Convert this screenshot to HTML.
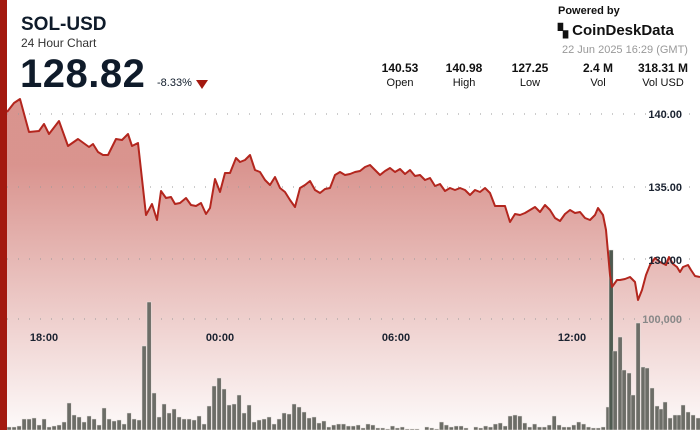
<!DOCTYPE html>
<html><head><meta charset="utf-8"><style>
body{margin:0;width:700px;height:430px;overflow:hidden;background:#fff;font-family:"Liberation Sans",sans-serif;position:relative}
.a{position:absolute;white-space:nowrap}
</style></head><body>
<svg class="a" style="left:0;top:0" width="700" height="430" id="s">
<defs><linearGradient id="g" x1="0" y1="0" x2="0" y2="1"><stop offset="0.2" stop-color="#c55a52" stop-opacity="0.65"/><stop offset="1" stop-color="#c55a52" stop-opacity="0.03"/></linearGradient></defs>
</svg>
<div class="a" style="left:0;top:0;width:7px;height:430px;background:#a3190f"></div>
<div class="a" style="left:21px;top:14px;font-size:19px;font-weight:bold;color:#0f1b2a">SOL-USD</div>
<div class="a" style="left:21px;top:36px;font-size:12px;color:#333">24 Hour Chart</div>
<div class="a" style="left:20px;top:52px;font-size:40px;font-weight:bold;color:#0f1b2a;letter-spacing:0.5px">128.82</div>
<div class="a" style="left:157px;top:77px;font-size:11px;color:#0f1b2a">-8.33%</div>
<div class="a" style="left:196px;top:80px;width:0;height:0;border-left:6px solid transparent;border-right:6px solid transparent;border-top:9px solid #a3190f"></div>
<div class="a" style="left:558px;top:5px;font-size:11px;font-weight:bold;color:#111">Powered by</div>
<div class="a" style="left:558px;top:22px;font-size:15px;font-weight:bold;color:#111"><span style="font-size:13px">▚</span> CoinDeskData</div>
<div class="a" style="left:562px;top:44px;font-size:11px;color:#999">22 Jun 2025 16:29 (GMT)</div>
<div class="a" style="left:370px;top:61px;width:330px;font-size:12px;color:#111">
<span class="a" style="left:0;width:60px;text-align:center;font-weight:bold">140.53</span>
<span class="a" style="left:64px;width:60px;text-align:center;font-weight:bold">140.98</span>
<span class="a" style="left:130px;width:60px;text-align:center;font-weight:bold">127.25</span>
<span class="a" style="left:198px;width:60px;text-align:center;font-weight:bold">2.4 M</span>
<span class="a" style="left:258px;width:70px;text-align:center;font-weight:bold">318.31 M</span>
<span class="a" style="left:0;top:16px;width:60px;text-align:center;font-size:11px">Open</span>
<span class="a" style="left:64px;top:16px;width:60px;text-align:center;font-size:11px">High</span>
<span class="a" style="left:130px;top:16px;width:60px;text-align:center;font-size:11px">Low</span>
<span class="a" style="left:198px;top:16px;width:60px;text-align:center;font-size:11px">Vol</span>
<span class="a" style="left:258px;top:16px;width:70px;text-align:center;font-size:11px">Vol USD</span>
</div>
<script>
var s=document.getElementById('s'),ns='http://www.w3.org/2000/svg';
function el(t,a){var e=document.createElementNS(ns,t);for(var k in a)e.setAttribute(k,a[k]);s.appendChild(e);return e;}
var p=[[7,112],[14,103],[20,99],[29,132],[39,131],[44,124],[49,134],[59,121],[68,146],[78,139],[89,147],[93,144],[98,152],[103,155],[108,155],[116,139],[122,140],[128,134],[132,146],[138,143],[146,215],[152,204],[157,220],[161,191],[166,198],[171,197],[175,204],[180,203],[186,198],[191,205],[196,206],[201,203],[206,214],[210,208],[215,179],[220,192],[225,173],[230,173],[236,158],[240,162],[245,160],[250,155],[255,170],[260,172],[265,180],[270,185],[275,177],[280,188],[285,192],[290,200],[295,207],[300,188],[305,185],[310,181],[315,190],[320,193],[325,189],[330,188],[335,175],[340,172],[345,175],[350,174],[355,172],[360,171],[365,167],[370,165],[375,170],[380,175],[385,171],[390,168],[395,172],[400,169],[405,174],[410,170],[415,176],[420,175],[425,180],[430,178],[435,186],[440,184],[445,191],[450,188],[455,190],[460,188],[465,190],[470,195],[475,190],[480,192],[485,188],[490,193],[495,206],[500,206],[505,206],[510,222],[515,214],[520,215],[525,213],[530,210],[535,207],[540,212],[545,205],[550,210],[555,218],[560,221],[565,214],[570,210],[575,213],[580,212],[585,218],[590,220],[595,215],[598,208],[603,215],[606,230],[610,275],[612,287],[617,280],[620,280],[625,279],[630,277],[635,282],[638,300],[642,290],[646,275],[650,265],[655,258],[660,262],[666,265],[669,257],[673,264],[677,267],[680,272],[683,267],[688,265],[691,270],[695,276],[700,277]];
var d=p.map(function(q,i){return (i?'L':'M')+q[0]+' '+q[1]}).join('');
el('path',{d:d+'L700 430L7 430Z',fill:'url(#g)'});
[114,187,259,319].forEach(function(y){el('line',{x1:7,x2:700,y1:y,y2:y,stroke:'#999','stroke-dasharray':'1 10','stroke-width':1});});
var L=[3,3,4,11,11,12,5,11,3,4,5,8,27,15,13,8,14,11,5,22,11,9,10,6,17,11,10,84,128,37,13,26,17,21,13,11,11,10,14,6,24,44,52,41,25,26,35,17,25,8,10,11,13,6,11,17,16,26,23,18,12];
var M=[13,7,9,3,5,6,6,4,4,5,2,6,5,2,2,1,4,2,3,1,1,1,0,3,2,1,8,5,3,4,4,2,0,3,2,4,3,6,7,4,14,15,14,7,3,6,3,3,5,14,5,3,3,5,8,6,3,2,2,3,23];
var bars=[];L.forEach(function(h,i){bars.push([7+5*i,h]);});
M.forEach(function(h,i){bars.push([312+4.9*i,h]);});
[[609,180],[613,79],[618,93],[622,60],[627,57],[631,35],[636,107],[641,63],[645,62],[650,42],[655,24],[659,21],[663,28],[668,12],[673,15],[677,15],[681,25],[686,18],[691,15],[696,12]].forEach(function(b){bars.push(b)});
bars.forEach(function(b){if(b[1]>0)el('rect',{x:b[0],y:430-b[1],width:4.2,height:b[1],fill:b[0]==609?'#4f5a50':'#6c6d67',stroke:'#e8e2df','stroke-width':0.5});});
el('path',{d:d,fill:'none',stroke:'#b3261e','stroke-width':2,'stroke-linejoin':'round'});
function t(x,y,txt,c,anc){var e=el('text',{x:x,y:y,'font-size':11,'font-weight':'bold',fill:c,'text-anchor':anc||'middle','font-family':'Liberation Sans, sans-serif'});e.textContent=txt;}
t(44,341,'18:00','#1a2230');t(220,341,'00:00','#1a2230');t(396,341,'06:00','#1a2230');t(572,341,'12:00','#1a2230');
t(682,118,'140.00','#1a2230','end');t(682,191,'135.00','#1a2230','end');t(682,264,'130.00','#1a2230','end');t(682,323,'100,000','#888','end');
</script>
</body></html>
